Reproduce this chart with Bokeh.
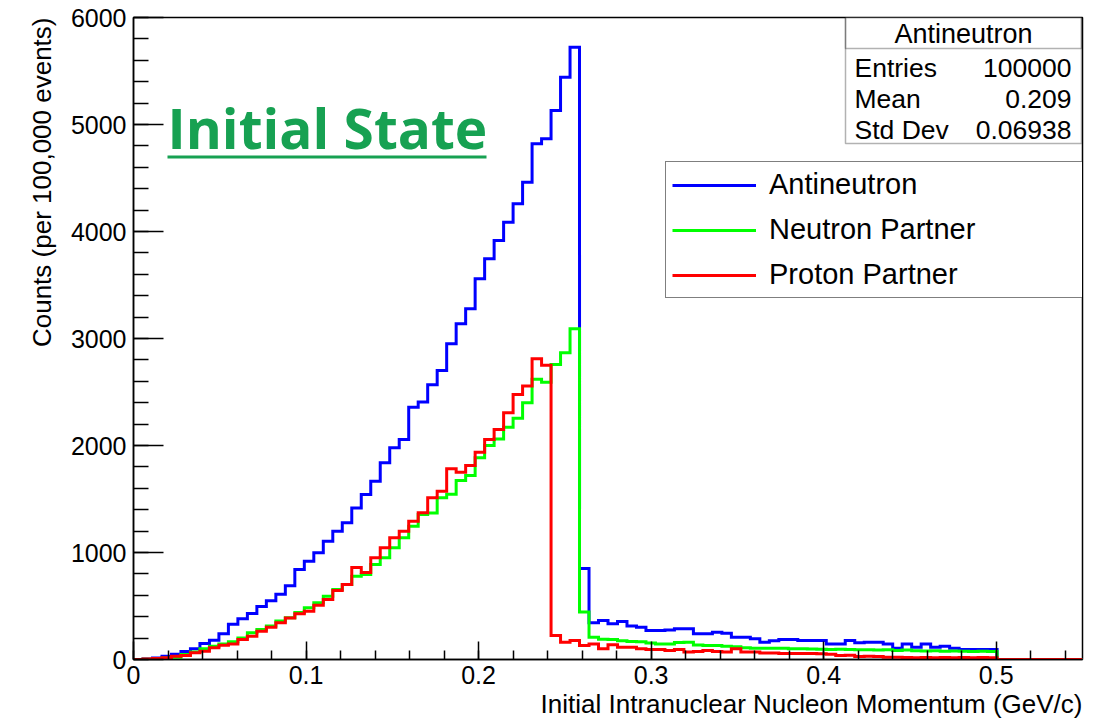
import numpy as np
from bokeh.plotting import figure
from bokeh.models import (Range1d, SingleIntervalTicker, CustomJSTickFormatter,
                          Label, BoxAnnotation, Legend, LegendItem, Title)
from bokeh.embed import file_html
from bokeh.resources import INLINE

# Histogram binning: 100 bins over 0 - 0.55 GeV/c
BIN_WIDTH = 0.0055
X_MIN, X_MAX = 0.0, 0.55
Y_MIN, Y_MAX = 0, 6000

# Bin contents (counts per 100,000 events)
antineutron = [
    0, 5, 15, 30, 50, 75, 100, 150, 180, 240,
    330, 380, 430, 495, 550, 610, 690, 841, 919, 997,
    1106, 1199, 1277, 1417, 1542, 1667, 1838, 1978, 2056, 2358,
    2406, 2567, 2701, 2950, 3137, 3277, 3558, 3745, 3916, 4087,
    4259, 4461, 4819, 4866, 5131, 5442, 5723, 850, 343, 364,
    333, 355, 312, 302, 271, 271, 275, 287, 287, 240,
    240, 255, 245, 209, 209, 193, 162, 175, 187, 187,
    178, 178, 178, 146, 146, 178, 156, 162, 162, 146,
    106, 146, 115, 146, 115, 125, 106, 93, 93, 93,
    93, 0, 0, 0, 0, 0, 0, 0, 0, 0,
]
neutron_partner = [
    0, 3, 8, 15, 22, 47, 70, 100, 125, 146,
    165, 202, 249, 280, 312, 359, 390, 440, 483, 530,
    592, 655, 701, 779, 795, 888, 950, 1044, 1137, 1246,
    1355, 1370, 1511, 1545, 1673, 1720, 1885, 2000, 2060, 2170,
    2255, 2400, 2620, 2590, 2757, 2866, 3090, 445, 209, 190,
    187, 175, 168, 165, 155, 146, 146, 158, 162, 135,
    131, 131, 125, 118, 110, 106, 106, 104, 104, 100,
    100, 98, 95, 93, 96, 93, 90, 92, 88, 90,
    85, 88, 82, 80, 82, 78, 80, 76, 75, 78,
    75, 0, 0, 0, 0, 0, 0, 0, 0, 0,
]
proton_partner = [
    0, 5, 10, 16, 30, 37, 62, 78, 109, 134,
    146, 187, 218, 265, 302, 343, 389, 427, 452, 508,
    561, 645, 701, 860, 813, 950, 1044, 1137, 1199, 1293,
    1371, 1511, 1573, 1782, 1751, 1813, 1938, 2056, 2150, 2305,
    2477, 2555, 2810, 2750, 224, 162, 178, 131, 146, 100,
    137, 115, 115, 100, 93, 93, 84, 93, 69, 75,
    84, 75, 69, 100, 69, 69, 60, 60, 55, 55,
    55, 55, 53, 50, 37, 40, 28, 30, 28, 22,
    22, 18, 16, 18, 16, 18, 16, 18, 16, 18,
    16, 0, 0, 0, 0, 0, 0, 0, 0, 0,
]

series_names = ["Antineutron", "Neutron Partner", "Proton Partner"]
series_colors = ["#0000ff", "#00ff00", "#ff0000"]

stats_title = "Antineutron"
stats_names = ["Entries", "Mean", "Std Dev"]
stats_values = ["100000", "0.209", "0.06938"]

x_title = "Initial Intranuclear Nucleon Momentum (GeV/c)"
y_title = "Counts (per 100,000 events)"
banner = "Initial State"

FONT = "Liberation Sans"
GREEN = "#17a152"

# Page layout in pixels
W, H = 1097, 724
FRAME_LEFT, FRAME_RIGHT, FRAME_TOP, FRAME_BOTTOM = 133, 1082, 17, 659


def fx(px):
    return X_MIN + (px - FRAME_LEFT) / (FRAME_RIGHT - FRAME_LEFT) * (X_MAX - X_MIN)


def fy(py):
    return Y_MIN + (FRAME_BOTTOM - py) / (FRAME_BOTTOM - FRAME_TOP) * (Y_MAX - Y_MIN)


def outline(counts):
    """Step outline of a histogram: (x, y) vertices along the bin tops."""
    edges = np.arange(len(counts) + 1) * BIN_WIDTH
    xs = np.repeat(edges, 2)[1:-1]
    ys = np.repeat(np.asarray(counts, dtype=float), 2)
    return xs, ys


p = figure(width=W, height=H, output_backend="svg", toolbar_location=None,
           x_range=Range1d(X_MIN, X_MAX), y_range=Range1d(Y_MIN, Y_MAX),
           min_border_left=FRAME_LEFT, min_border_right=W - FRAME_RIGHT,
           min_border_top=FRAME_TOP, min_border_bottom=H - FRAME_BOTTOM)
p.grid.visible = False
p.background_fill_color = "white"
p.border_fill_color = "white"
p.outline_line_color = "black"
p.outline_line_width = 1.5

# Axes in the ROOT style: ticks pointing into the frame
p.xaxis.ticker = SingleIntervalTicker(interval=0.1, num_minor_ticks=5)
p.yaxis.ticker = SingleIntervalTicker(interval=1000, num_minor_ticks=5)
p.xaxis.formatter = CustomJSTickFormatter(
    code="return Math.abs(tick) < 1e-9 ? '0' : tick.toFixed(1);")
for ax in (p.xaxis, p.yaxis):
    ax.axis_line_color = "black"
    ax.axis_line_width = 1.5
    ax.major_tick_line_color = "black"
    ax.minor_tick_line_color = "black"
    ax.major_tick_line_width = 1.5
    ax.minor_tick_line_width = 1.5
    ax.major_tick_out = 0
    ax.minor_tick_out = 0
    ax.major_label_text_font = FONT
    ax.major_label_text_font_size = "25px"
    ax.major_label_text_color = "black"
p.xaxis.major_tick_in = 18
p.xaxis.minor_tick_in = 9
p.yaxis.major_tick_in = 30
p.yaxis.minor_tick_in = 15
p.xaxis.major_label_standoff = 6
p.yaxis.major_label_standoff = 7

renderers = []
for counts, color in zip([antineutron, neutron_partner, proton_partner], series_colors):
    xs, ys = outline(counts)
    renderers.append(p.line(xs, ys, line_color=color, line_width=3,
                            line_join="miter"))

# Axis titles, aligned to the far ends of the axes
p.add_layout(Title(text=x_title, align="right", text_font=FONT,
                   text_font_size="26px", text_font_style="normal",
                   text_color="black", standoff=0), "below")
p.add_layout(Title(text=y_title, align="right", text_font=FONT,
                   text_font_size="26px", text_font_style="normal",
                   text_color="black", standoff=22), "left")

# Statistics box
SB_L, SB_R, SB_T, SB_B, SB_SEP = 845, 1081, FRAME_TOP, 143, 48
p.add_layout(BoxAnnotation(left=fx(SB_L), right=fx(SB_R), top=fy(SB_T), bottom=fy(SB_B),
                           fill_color="white", fill_alpha=1, line_color="black",
                           line_width=1.5, level="overlay"))
p.add_layout(BoxAnnotation(left=fx(SB_L), right=fx(SB_R), top=fy(SB_T), bottom=fy(SB_SEP),
                           fill_alpha=0, line_color="black", line_width=1.5,
                           level="overlay"))
p.add_layout(Label(x=fx((SB_L + SB_R) / 2), y=fy(33), text=stats_title,
                   text_align="center", text_baseline="middle",
                   text_font=FONT, text_font_size="27px", text_color="black",
                   level="overlay"))
for i, (name, val) in enumerate(zip(stats_names, stats_values)):
    row_y = fy(67 + 31 * i)
    p.add_layout(Label(x=fx(SB_L + 9), y=row_y, text=name, text_align="left",
                       text_baseline="middle", text_font=FONT,
                       text_font_size="26.5px", text_color="black", level="overlay"))
    p.add_layout(Label(x=fx(SB_R - 10), y=row_y, text=val, text_align="right",
                       text_baseline="middle", text_font=FONT,
                       text_font_size="26.5px", text_color="black", level="overlay"))

# Legend
LEG_L, LEG_B = 665, 298
legend = Legend(
    items=[LegendItem(label=n, renderers=[r]) for n, r in zip(series_names, renderers)],
    location=(LEG_L - FRAME_LEFT, FRAME_BOTTOM - LEG_B),
    padding=6, spacing=12, margin=0,
    glyph_width=84, glyph_height=20, label_standoff=13, label_width=307,
    label_text_font=FONT, label_text_font_size="29px", label_text_color="black",
    border_line_color="black", border_line_width=1.5,
    background_fill_color="white", background_fill_alpha=1)
p.add_layout(legend)

# Banner text with underline
p.add_layout(Label(x=fx(167), y=fy(127), text=banner, text_align="left",
                   text_baseline="alphabetic", text_font="Open Sans",
                   text_font_style="bold", text_font_size="55px", text_color=GREEN))
p.add_layout(BoxAnnotation(left=fx(167), right=fx(486), top=fy(155), bottom=fy(158),
                           fill_color=GREEN, fill_alpha=1, line_alpha=0))

open("out.html", "w").write(file_html(p, INLINE))
